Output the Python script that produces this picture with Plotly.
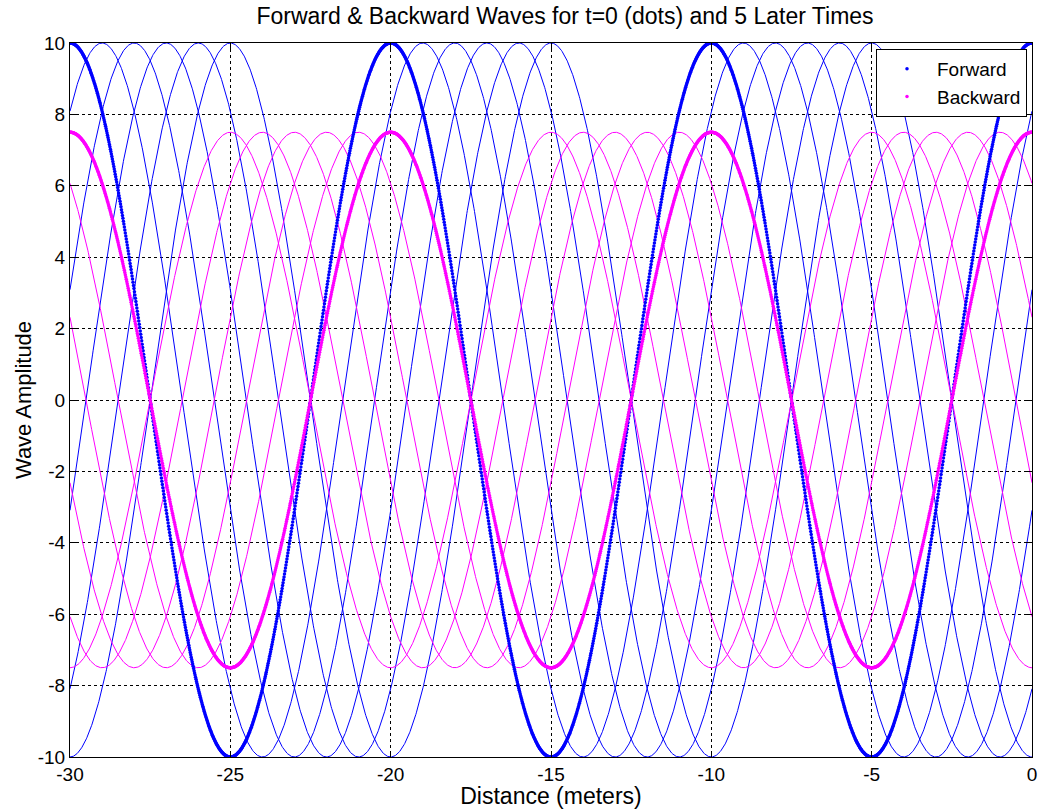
import numpy as np
import plotly.graph_objects as go

# ---- data ----
x_start, x_stop, n_points = -30.0, 0.0, 2001
wavelength_m = 10.0
forward_amplitude = 10.0
backward_amplitude = 7.5
later_shifts_m = [1, 2, 3, 4, 5]          # distance each wave has travelled at the 5 later times
x_ticks = [-30, -25, -20, -15, -10, -5, 0]
y_ticks = [-10, -8, -6, -4, -2, 0, 2, 4, 6, 8, 10]
x_tick_labels = ["-30", "-25", "-20", "-15", "-10", "-5", "0"]
y_tick_labels = ["-10", "-8", "-6", "-4", "-2", "0", "2", "4", "6", "8", "10"]
series_names = ["Forward", "Backward"]

x = np.linspace(x_start, x_stop, n_points)
k = 2 * np.pi / wavelength_m

FONT = "Liberation Sans, Arial"
W, H = 1039, 809
fig = go.Figure()

# later times (thin lines)
for s in later_shifts_m:
    fig.add_trace(go.Scatter(x=x, y=forward_amplitude * np.cos(k * (x - s)), mode="lines",
                             line=dict(color="rgb(0,0,255)", width=1), showlegend=False,
                             hoverinfo="skip"))
for s in later_shifts_m:
    fig.add_trace(go.Scatter(x=x, y=backward_amplitude * np.cos(k * (x + s)), mode="lines",
                             line=dict(color="rgb(255,0,255)", width=1), showlegend=False,
                             hoverinfo="skip"))

# t = 0 (dots)
fig.add_trace(go.Scatter(x=x, y=forward_amplitude * np.cos(k * x), mode="markers",
                         marker=dict(color="rgb(0,0,255)", size=3.5), name=series_names[0]))
fig.add_trace(go.Scatter(x=x, y=backward_amplitude * np.cos(k * x), mode="markers",
                         marker=dict(color="rgb(255,0,255)", size=3.5), name=series_names[1]))

axis_common = dict(showline=True, linecolor="black", linewidth=1, mirror="ticks",
                   ticks="inside", ticklen=6, tickcolor="black", automargin=False,
                   showgrid=True, gridcolor="black", gridwidth=0.6, griddash="3px,3px",
                   zeroline=False, tickfont=dict(family=FONT, size=19, color="black"))

fig.update_xaxes(range=[x_start, x_stop], tickvals=x_ticks, ticktext=x_tick_labels, **axis_common,
                 title=dict(text="Distance (meters)", font=dict(family=FONT, size=23, color="black"),
                            standoff=0))
fig.update_yaxes(range=[-10, 10], tickvals=y_ticks, ticktext=y_tick_labels, **axis_common,
                 title=dict(text="Wave Amplitude", font=dict(family=FONT, size=22, color="black"),
                            standoff=0))

fig.update_layout(
    width=W, height=H,
    margin=dict(l=70, r=7, t=43, b=52, autoexpand=False),
    paper_bgcolor="white", plot_bgcolor="white",
    title=dict(text="Forward & Backward Waves for t=0 (dots) and 5 Later Times",
               font=dict(family=FONT, size=23, color="black"), automargin=False,
               x=(565 - 70) / 962, xref="paper", xanchor="center", y=1 - 16 / H, yref="container",
               yanchor="middle"),
    legend=dict(x=0.9948, xanchor="right", y=0.9916, yanchor="top", bgcolor="white",
                bordercolor="black", borderwidth=1, itemwidth=50,
                font=dict(family=FONT, size=19, color="black")),
    showlegend=True,
)

# remove the page's default 8px body margin so the figure fills the window exactly
fig.write_html("out.html", config={"displayModeBar": False},
               post_script="document.body.style.margin='0px';document.body.style.overflow='hidden';")
